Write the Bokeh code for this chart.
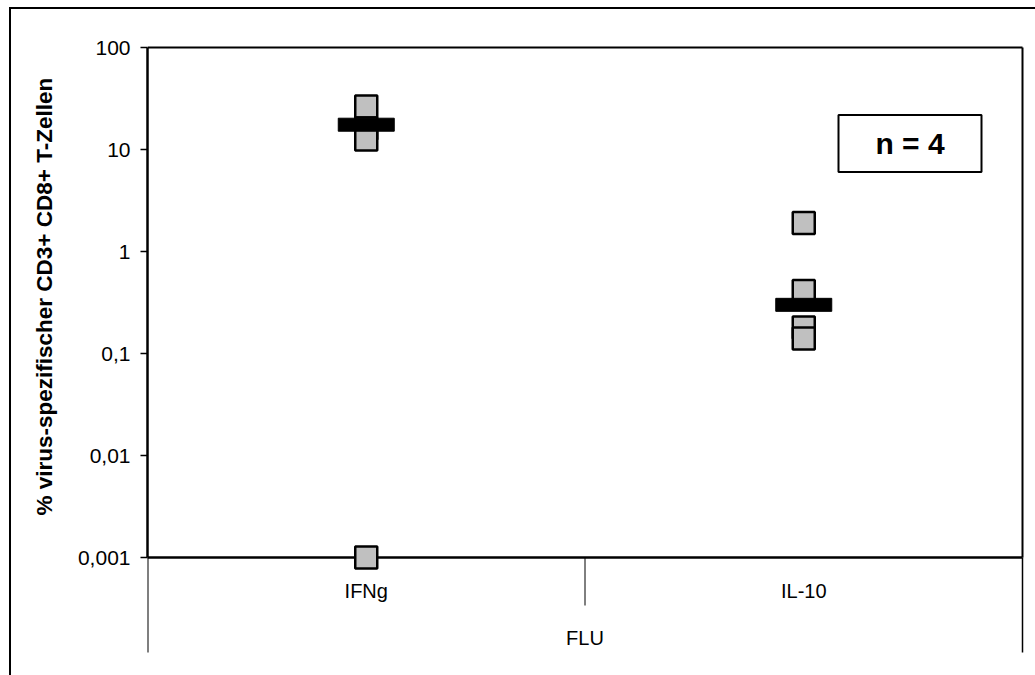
from bokeh.plotting import figure
from bokeh.models import Range1d, FixedTicker, Title
from bokeh.embed import file_html
from bokeh.resources import INLINE
from bokeh.core.properties import value

# ---- data ----
categories = ["IFNg", "IL-10"]
group_label = "FLU"
ifng_values = [26.4, 16.1, 12.5, 0.001]
il10_values = [1.9, 0.41, 0.18, 0.14]
bar_values = [17.5, 0.3]
y_ticks = [0.001, 0.01, 0.1, 1, 10, 100]
y_tick_labels = ["0,001", "0,01", "0,1", "1", "10", "100"]
y_title = "% virus-spezifischer CD3+ CD8+ T-Zellen"
n_label = "n = 4"

# ---- layout constants ----
W, H = 1035, 675
FONT = "Liberation Sans"
PX_DEC = 102.0          # pixels per decade
PX_UNIT = 437.5         # pixels per category
frame_left, frame_right = 147, 1026
frame_top, frame_bottom = 44, 657
y_end = 10 ** (2 + 3 / PX_DEC)
y_start = 10 ** (-3 - (frame_bottom - 557) / PX_DEC)
x_end = (frame_right - frame_left) / PX_UNIT


def below(px):
    return 10 ** (-3 - px / PX_DEC)


p = figure(width=W, height=H, y_axis_type="log", x_axis_location=None,
           x_range=Range1d(0, x_end), y_range=Range1d(y_start, y_end),
           output_backend="svg", toolbar_location=None,
           min_border_left=frame_left, min_border_right=W - frame_right,
           min_border_top=frame_top, min_border_bottom=H - frame_bottom)
p.outline_line_color = None
p.grid.visible = False
p.background_fill_color = "white"
p.border_fill_color = None
# outer chart-area border: only its left and top edges fall inside the window
p.styles = {
    "background": ("linear-gradient(#000,#000) 9px 7px / 2px 100% no-repeat, "
                   "linear-gradient(#000,#000) 9px 7px / 100% 2px no-repeat, #fff"),
}

ax = p.yaxis[0]
ax.ticker = FixedTicker(ticks=y_ticks)
ax.major_label_overrides = {t: l for t, l in zip(y_ticks, y_tick_labels)}
ax.bounds = (y_ticks[0], y_ticks[-1])
ax.axis_line_width = 2.5
ax.axis_line_color = "black"
ax.major_tick_in = 0
ax.major_tick_out = 7
ax.major_tick_line_width = 1.5
ax.minor_tick_line_color = None
ax.major_label_standoff = 10
ax.major_label_text_font = FONT
ax.major_label_text_font_size = "21px"
ax.major_label_text_color = "black"

# y-axis title, aligned to the start of the value axis
p.add_layout(Title(text=y_title, align="left", offset=142, standoff=36,
                   text_font=FONT, text_font_style="bold", text_font_size="22.5px",
                   text_color="black"), "left")

cat_x = [i + 0.5 for i in range(len(categories))]
y_min, y_max = y_ticks[0], y_ticks[-1]

# plot-area border (top, right) and x axis line
p.segment(x0=[0, 2], y0=[y_max, y_min], x1=[2, 2], y1=[y_max, y_max],
          line_color="black", line_width=2)
p.segment(x0=[0], y0=[y_min], x1=[2], y1=[y_min], line_color="black", line_width=2.5)
# category separators
p.segment(x0=[0, 1, 2], y0=[y_min] * 3, x1=[0, 1, 2],
          y1=[below(95), below(48), below(95)], line_color="black", line_width=[2, 1, 1.5])

# category labels
p.text(x=cat_x, y=[below(33)] * 2, text=categories, text_font=value(FONT),
       text_font_size="20px", text_align="center", text_baseline="middle", text_color="black")
p.text(x=[1], y=[below(80)], text=[group_label], text_font=value(FONT),
       text_font_size="20px", text_align="center", text_baseline="middle", text_color="black")

# data points
for cx, vals in zip(cat_x, [ifng_values, il10_values]):
    for v in vals:
        p.scatter(x=[cx], y=[v], marker="square", size=22, fill_color="#c0c0c0",
                  line_color="black", line_width=2.5)

# median bars
p.rect(x=cat_x, y=bar_values, width=56, height=13, width_units="screen",
       height_units="screen", fill_color="black", line_color="black")

# n = 4 box
box_x = (909.5 - frame_left) / PX_UNIT
box_y = 10 ** (2 - (143 - 47) / PX_DEC)
p.rect(x=[box_x], y=[box_y], width=143, height=57, width_units="screen",
       height_units="screen", fill_color="white", line_color="black", line_width=2)
p.text(x=[box_x], y=[box_y], text=[n_label], text_font=value(FONT), text_font_style="bold",
       text_font_size="30px", text_align="center", text_baseline="middle", text_color="black")

open("out.html", "w").write(file_html(p, INLINE))
